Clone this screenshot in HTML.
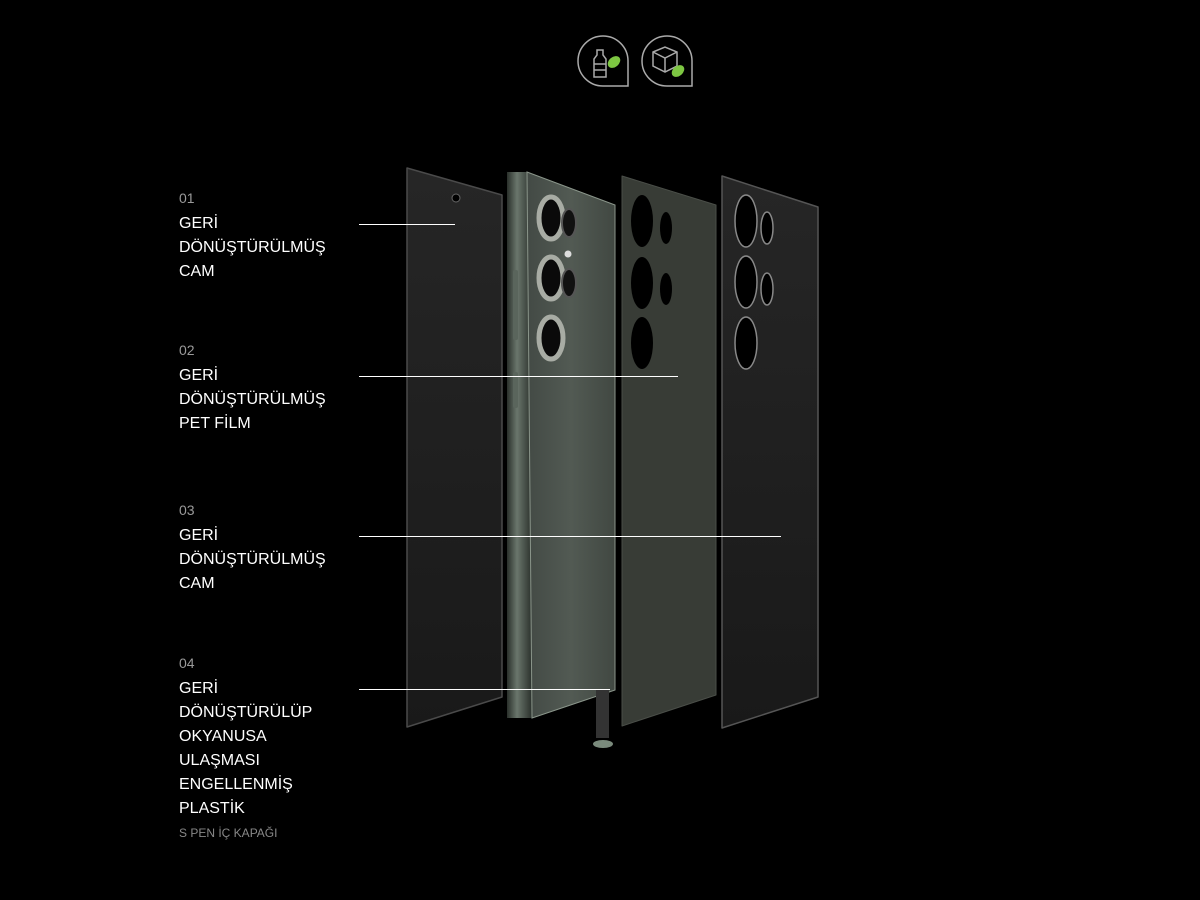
<!DOCTYPE html><html><head><style>
body{margin:0;background:#000;width:1200px;height:900px;overflow:hidden;position:relative;font-family:"Liberation Sans",sans-serif}
.n{position:absolute;left:179px;color:#9a9a9a;font-size:14px}
.t{position:absolute;left:179px;color:#fff;font-size:16px;line-height:24px}
.s{position:absolute;left:179px;color:#888;font-size:12px}
svg{position:absolute;left:0;top:0}
</style></head><body>
<svg width="1200" height="900">
<defs>
<linearGradient id="ph" x1="0" x2="1"><stop offset="0" stop-color="#434a45"/><stop offset="0.5" stop-color="#525a53"/><stop offset="1" stop-color="#414842"/></linearGradient>
<linearGradient id="fr" x1="0" x2="1"><stop offset="0" stop-color="#2a302b"/><stop offset="0.4" stop-color="#6a766c"/><stop offset="1" stop-color="#2a302b"/></linearGradient>
<linearGradient id="p1" x1="0" y1="0" x2="0" y2="1"><stop offset="0" stop-color="#262626"/><stop offset="1" stop-color="#191919"/></linearGradient>
</defs>
<g fill="none" stroke="#aaa" stroke-width="1.5">
<path d="M628 86 H603 A25 25 0 1 1 628 61 Z"/>
<path d="M692 86 H667 A25 25 0 1 1 692 61 Z"/>
<path d="M597 50 h6 v5 l3 4 v18 h-12 v-18 l3 -4z M594 64 h12 M594 70 h12"/>
<path d="M653 52 l12 -5 l12 5 v14 l-12 6 l-12 -6z M653 52 l12 6 l12 -6 M665 58 v14"/>
</g>
<ellipse cx="614" cy="62" rx="7" ry="5" fill="#7dc642" transform="rotate(-40 614 62)"/>
<ellipse cx="678" cy="71" rx="7" ry="5" fill="#7dc642" transform="rotate(-40 678 71)"/>
<polygon points="407,168 502,195 502,697 407,727" fill="url(#p1)" stroke="#4a4a4a" stroke-width="1.5" stroke-linejoin="round"/>
<circle cx="456" cy="198" r="4" fill="#000" stroke="#666"/>
<polygon points="507,172 527,172 532,718 507,718" fill="url(#fr)"/>
<polygon points="527,172 615,205 615,690 532,718" fill="url(#ph)" stroke="#8a958a" stroke-width="1"/>
<rect x="513" y="270" width="5" height="70" rx="2" fill="#5a655c"/>
<rect x="513" y="372" width="5" height="36" rx="2" fill="#5a655c"/>
<g stroke="#a8aca4" stroke-width="5" fill="#0a0a0a">
<ellipse cx="551" cy="218" rx="12" ry="21"/><ellipse cx="551" cy="278" rx="12" ry="21"/><ellipse cx="551" cy="338" rx="12" ry="21"/>
</g>
<g fill="#111" stroke="#555" stroke-width="2"><ellipse cx="569" cy="223" rx="7" ry="14"/><ellipse cx="569" cy="283" rx="7" ry="14"/></g>
<circle cx="568" cy="254" r="3.5" fill="#ddd"/>
<rect x="596" y="690" width="13" height="48" fill="#333"/>
<ellipse cx="603" cy="744" rx="10" ry="4" fill="#7a8a7c"/>
<polygon points="622,176 716,205 716,695 622,726" fill="#383c36" stroke="#4a4e48" stroke-width="1" stroke-linejoin="round"/>
<g fill="#000"><ellipse cx="642" cy="221" rx="11" ry="26"/><ellipse cx="642" cy="283" rx="11" ry="26"/><ellipse cx="642" cy="343" rx="11" ry="26"/><ellipse cx="666" cy="228" rx="6" ry="16"/><ellipse cx="666" cy="289" rx="6" ry="16"/></g>
<polygon points="722,176 818,207 818,697 722,728" fill="url(#p1)" stroke="#555" stroke-width="1.5" stroke-linejoin="round"/>
<g fill="#000" stroke="#888" stroke-width="1.5"><ellipse cx="746" cy="221" rx="11" ry="26"/><ellipse cx="746" cy="282" rx="11" ry="26"/><ellipse cx="746" cy="343" rx="11" ry="26"/><ellipse cx="767" cy="228" rx="6" ry="16"/><ellipse cx="767" cy="289" rx="6" ry="16"/></g>
<g stroke="#fff" stroke-width="1">
<line x1="359" y1="224.5" x2="455" y2="224.5"/><line x1="359" y1="376.5" x2="678" y2="376.5"/><line x1="359" y1="536.5" x2="781" y2="536.5"/><line x1="359" y1="689.5" x2="610" y2="689.5"/>
</g>
</svg>
<div class="n" style="top:190px">01</div>
<div class="t" style="top:212px">GERİ<br>DÖNÜŞTÜRÜLMÜŞ<br>CAM</div>
<div class="n" style="top:342px">02</div>
<div class="t" style="top:364px">GERİ<br>DÖNÜŞTÜRÜLMÜŞ<br>PET FİLM</div>
<div class="n" style="top:502px">03</div>
<div class="t" style="top:524px">GERİ<br>DÖNÜŞTÜRÜLMÜŞ<br>CAM</div>
<div class="n" style="top:655px">04</div>
<div class="t" style="top:677px">GERİ<br>DÖNÜŞTÜRÜLÜP<br>OKYANUSA<br>ULAŞMASI<br>ENGELLENMİŞ<br>PLASTİK</div>
<div class="s" style="top:826px">S PEN İÇ KAPAĞI</div>
</body></html>
